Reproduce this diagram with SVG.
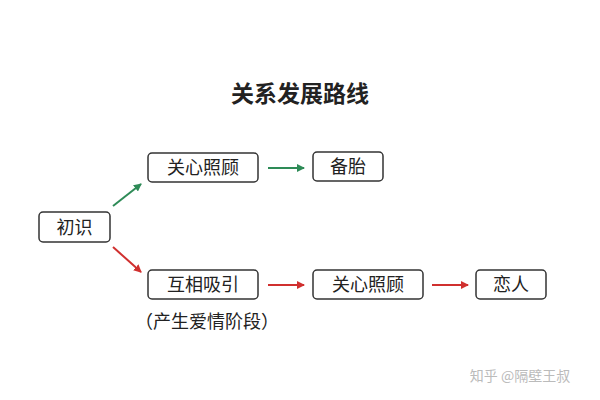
<svg xmlns="http://www.w3.org/2000/svg" width="600" height="400" viewBox="0 0 600 400">
<style>
text{font-family:"Noto Sans CJK SC","Noto Sans",sans-serif;fill:#222}
.n rect{fill:#fff;stroke:#333;stroke-width:1.5}
.n text{font-size:18px;text-anchor:middle}
.g{stroke:#2e8b57;stroke-width:2;fill:none}
.r{stroke:#d0302f;stroke-width:2;fill:none}
</style>
<defs>
<marker id="ag" markerWidth="8" markerHeight="8" refX="7" refY="4" orient="auto" markerUnits="userSpaceOnUse"><path d="M0,0 L8,4 L0,8z" fill="#2e8b57"/></marker>
<marker id="ar" markerWidth="8" markerHeight="8" refX="7" refY="4" orient="auto" markerUnits="userSpaceOnUse"><path d="M0,0 L8,4 L0,8z" fill="#d0302f"/></marker>
</defs>
<rect width="600" height="400" fill="#fff"/>
<text x="300" y="102" font-size="23" font-weight="bold" text-anchor="middle">关系发展路线</text>
<g id="n1" class="n"><rect x="39" y="212" width="71" height="30" rx="4"/><text x="74.5" y="233.5">初识</text></g>
<g id="n2" class="n"><rect x="148" y="153" width="110" height="29" rx="4"/><text x="203" y="174">关心照顾</text></g>
<g id="n3" class="n"><rect x="313" y="152" width="70" height="29" rx="4"/><text x="348" y="173">备胎</text></g>
<g id="n4" class="n"><rect x="148" y="270" width="110" height="29" rx="4"/><text x="203" y="291">互相吸引</text></g>
<g id="n5" class="n"><rect x="313" y="270" width="110" height="29" rx="4"/><text x="368" y="291">关心照顾</text></g>
<g id="n6" class="n"><rect x="476" y="270" width="70" height="29" rx="4"/><text x="511" y="291">恋人</text></g>
<text x="207" y="328" font-size="18" text-anchor="middle">（产生爱情阶段）</text>
<g id="edges">
<line class="g" x1="113" y1="206" x2="141" y2="184" marker-end="url(#ag)"/>
<line class="g" x1="268" y1="168" x2="304" y2="168" marker-end="url(#ag)"/>
<line class="r" x1="113" y1="247" x2="141" y2="272" marker-end="url(#ar)"/>
<line class="r" x1="268" y1="285" x2="304" y2="285" marker-end="url(#ar)"/>
<line class="r" x1="432" y1="285" x2="468" y2="285" marker-end="url(#ar)"/>
</g>
<text x="520" y="381" font-size="14" text-anchor="middle" style="fill:#bbb">知乎 @隔壁王叔</text>
</svg>
